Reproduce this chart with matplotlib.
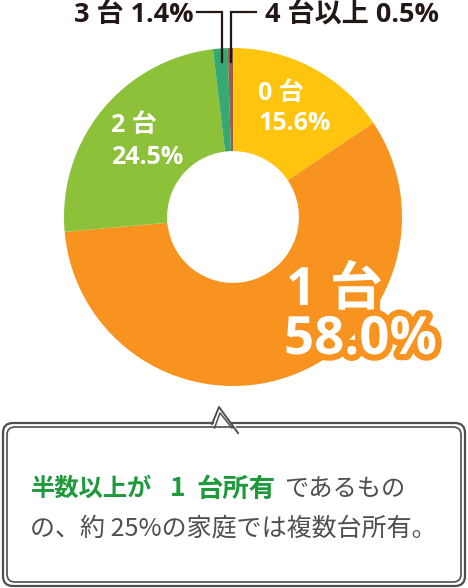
import matplotlib
matplotlib.use("Agg")
import matplotlib.pyplot as plt
import matplotlib.patheffects as pe
from matplotlib.patches import FancyBboxPatch, Polygon

plt.rcParams['font.family'] = ['Open Sans', 'Noto Sans CJK JP', 'DejaVu Sans']

# ---- data ----
categories = ["0 台", "1 台", "2 台", "3 台", "4 台以上"]
values = [15.6, 58.0, 24.5, 1.4, 0.5]
colors = ["#FFC40D", "#F7931E", "#8DC13A", "#36A872", "#98604A"]
bubble_line1_green = ["半数以上が", "1", "台所有"]
bubble_line1_gray = "であるもの"
bubble_line2 = "の、約 25%の家庭では複数台所有。"

W, H = 468, 588
fig = plt.figure(figsize=(W / 100, H / 100), dpi=100)
ax = fig.add_axes([0, 0, 1, 1])

def Y(y):
    return H - y

cx, cy, R = 233, Y(217), 169
ax.pie(values, colors=colors, startangle=90, counterclock=False,
       center=(cx, cy), radius=R,
       wedgeprops=dict(width=R * 0.61, linewidth=0))
ax.set_xlim(0, W)
ax.set_ylim(0, H)
ax.set_aspect('equal')
ax.axis('off')

def pct(v):
    return f"{v:.1f}%"

jp = ['Open Sans', 'Noto Sans CJK JP']

# 0台 label
ax.text(258, Y(94), categories[0], color="white", fontsize=18, fontweight='bold',
        family=jp, ha='left', va='center')
ax.text(258, Y(124), pct(values[0]), color="white", fontsize=18, fontweight='bold',
        family=jp, ha='left', va='center')
# 2台 label
ax.text(111, Y(126), categories[2], color="white", fontsize=18, fontweight='bold',
        family=jp, ha='left', va='center')
ax.text(111, Y(157), pct(values[2]), color="white", fontsize=18, fontweight='bold',
        family=jp, ha='left', va='center')
# 1台 label with orange outline
stroke = [pe.withStroke(linewidth=9, foreground=colors[1])]
ax.text(286, Y(291), categories[1], color="white", fontsize=38, fontweight='bold',
        family=jp, ha='left', va='center', path_effects=stroke)
ax.text(284, Y(340), pct(values[1]), color="white", fontsize=38, fontweight='bold',
        family=jp, ha='left', va='center', path_effects=stroke)

# top labels with leader lines
dark = "#231815"
ax.text(194, Y(15), f"{categories[3]} {pct(values[3])}", color=dark, fontsize=19.5,
        fontweight='bold', family=jp, ha='right', va='center')
ax.text(265, Y(15), f"{categories[4]} {pct(values[4])}", color=dark, fontsize=19.5,
        fontweight='bold', family=jp, ha='left', va='center')
ax.plot([197, 222, 222], [Y(12), Y(12), Y(62)], color=dark, lw=1.6,
        solid_joinstyle='miter')
ax.plot([231, 231, 256], [Y(62), Y(12), Y(12)], color=dark, lw=1.6,
        solid_joinstyle='miter')

# speech bubble
gray = "#4f4f4f"
outer = FancyBboxPatch((3, Y(586)), 462, 163, boxstyle="round,pad=0,rounding_size=10",
                       fc="white", ec=gray, lw=1.6)
inner = FancyBboxPatch((7, Y(582)), 454, 155, boxstyle="round,pad=0,rounding_size=8",
                       fc="none", ec=gray, lw=1.2)
ax.add_patch(outer)
ax.add_patch(inner)
# pointer
ax.add_patch(Polygon([(213.5, Y(424.5)), (219, Y(408)), (236, Y(430)), (236, Y(425))],
                     closed=True, fc="white", ec="none", zorder=3))
ax.plot([212, 219, 238], [Y(424), Y(407), Y(433)], color=gray, lw=1.4, zorder=4)
ax.plot([214.5, 220, 232], [Y(428), Y(413), Y(428)], color=gray, lw=1.1, zorder=4)

# bubble text
green = "#1E9A3C"
cjk = ['Noto Sans CJK JP']
ax.text(31, Y(489), bubble_line1_green[0], color=green, fontsize=17.5,
        fontweight='bold', family=cjk, ha='left', va='center')
ax.text(178, Y(489), bubble_line1_green[1], color=green, fontsize=19,
        fontweight='bold', family=cjk, ha='center', va='center')
ax.text(196, Y(489), bubble_line1_green[2], color=green, fontsize=19,
        fontweight='bold', family=cjk, ha='left', va='center')
ax.text(284, Y(489), bubble_line1_gray, color=gray, fontsize=17.5,
        family=cjk, ha='left', va='center')
ax.text(30, Y(529), bubble_line2, color=gray, fontsize=18,
        family=cjk, ha='left', va='center')

fig.savefig("out.png", dpi=100)
